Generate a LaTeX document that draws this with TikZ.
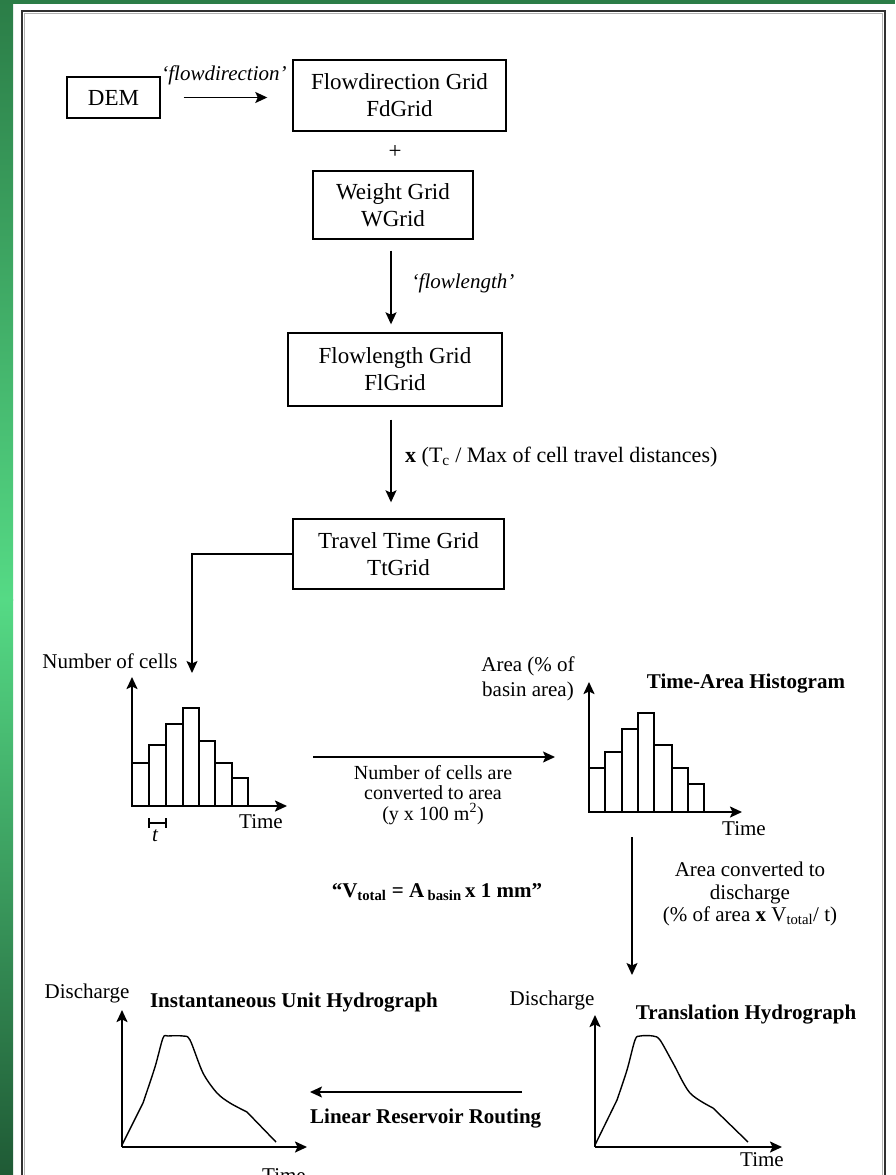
\documentclass[tikz,border=0pt]{standalone}
\usepackage{fontspec}
\setmainfont{Liberation Serif}
\usetikzlibrary{arrows.meta,calc}

\definecolor{gtop}{HTML}{2B7D47}
\definecolor{gmid}{HTML}{55DA85}
\definecolor{gbot}{HTML}{1F5A35}
\definecolor{framegrey}{HTML}{303030}

\newcommand{\gridsize}{\fontsize{23}{27}\selectfont}
\newcommand{\lblsize}{\fontsize{21}{22.5}\selectfont}
\newcommand{\smallsize}{\fontsize{20}{20.5}\selectfont}

\tikzset{
  gridbox/.style={draw, line width=1.4pt, inner sep=0pt, align=center, font=\gridsize},
  lbl/.style={inner sep=0pt, align=center, font=\lblsize},
  title/.style={inner sep=0pt, align=center, font=\lblsize\bfseries},
  arr/.style={-{Stealth[length=12pt,width=11pt,inset=2.5pt]}, line width=1.5pt},
  axis/.style={-{Stealth[length=12pt,width=11pt,inset=2.5pt]}, line width=2pt},
  bar/.style={line width=1.4pt},
  curve/.style={line width=1.4pt, line join=round}
}

\begin{document}
\begin{tikzpicture}[x=1pt,y=-1pt]
\useasboundingbox (0,0) rectangle (895,1175);

% page background and green border (bright in the middle, darker at both ends)
\fill[white] (0,0) rectangle (895,1175);
\shade[top color=gtop, bottom color=gmid] (0,0) rectangle (13,600);
\shade[top color=gmid, bottom color=gbot] (0,599.5) rectangle (13,1175);
\fill[gtop] (0,0) rectangle (895,4);
\draw[framegrey, line width=2.2pt] (22,1190) -- (22,11) -- (885,11) -- (885,1190);
\draw[gray!60, line width=0.8pt] (24.2,1190) -- (24.2,13.2) -- (882.8,13.2) -- (882.8,1190);

% grid chain
\node[gridbox, minimum width=93pt, minimum height=41pt] (dem) at (113.5,97.5) {DEM};
\node[gridbox, minimum width=213pt, minimum height=71pt] (fd) at (399.5,95.5) {Flowdirection Grid\\FdGrid};
\node[lbl, font=\gridsize] (plus) at (395,152) {+};
\node[gridbox, minimum width=160pt, minimum height=68pt] (wg) at (393,205) {Weight Grid\\WGrid};
\node[gridbox, minimum width=214pt, minimum height=73pt] (fl) at (395,369.5) {Flowlength Grid\\FlGrid};
\node[gridbox, minimum width=211pt, minimum height=70pt] (tt) at (398.5,554) {Travel Time Grid\\TtGrid};

\draw[arr, shorten <=23pt, shorten >=25pt] (dem.east) -- (fd.west |- dem.east);
\node[lbl, font=\lblsize\itshape] (fdlbl) at (224,75) {‘flowdirection’};

\draw[arr, shorten <=11pt, shorten >=8pt] ([xshift=-2pt]wg.south) -- ([xshift=-2pt]wg.south |- fl.north);
\node[lbl, font=\lblsize\itshape] (fllbl) at (463,283) {‘flowlength’};

\draw[arr, shorten <=13pt, shorten >=16pt] ([xshift=-4pt]fl.south) -- ([xshift=-4pt]fl.south |- tt.north);
\node[lbl, anchor=west, font=\fontsize{22}{24}\selectfont] (ttlbl) at (405,457) {\textbf{x} (T\textsubscript{c} / Max of cell travel distances)};

% cell-count histogram
\coordinate (o1) at (132,806);
\coordinate (in1) at (192,673);
\draw[arr] (tt.west) -| (in1);
\node[lbl] (ncells) at (110,661) {Number of cells};
\foreach \a/\b/\t in {132/149/763, 149/166/745, 166/183/724, 183/199/708, 199/215/741, 215/232/763, 232/248/778}
  \draw[bar] (\a,806) rectangle (\b,\t);
\draw[axis] (o1) -- ++(0,-129);
\draw[axis] (o1) -- ++(155,0);
\node[lbl] (time1) at (261,822) {Time};
\draw[line width=1.2pt] (149,823) -- (166,823) (149,818) -- (149,828) (166,818) -- (166,828);
\node[lbl, font=\lblsize\itshape] (tstep) at (155,836) {t};

% conversion to area
\coordinate (a1s) at (313,757);
\coordinate (a1e) at (555,757);
\draw[arr] (a1s) -- (a1e);
\node[lbl, font=\smallsize] (conv) at (433,795) {Number of cells are\\converted to area\\(y x 100 m\textsuperscript{2})};

% time-area histogram
\coordinate (o2) at (589,812);
\node[lbl, font=\fontsize{21}{25}\selectfont] (areaax) at (528,679) {Area (\% of\\basin area)};
\node[title] (tah) at (746,684) {Time-Area Histogram};
\foreach \a/\b/\t in {589/605/768, 605/622/752, 622/638/729, 638/654/713, 654/672/745, 672/688/768, 688/704/784}
  \draw[bar] (\a,812) rectangle (\b,\t);
\draw[axis] (o2) -- ++(0,-130);
\draw[axis] (o2) -- ++(153,0);
\node[lbl] (time2) at (744,829) {Time};

% conversion to discharge
\coordinate (d1s) at (632,837);
\coordinate (d1e) at (632,975);
\draw[arr] (d1s) -- (d1e);
\node[lbl] (dconv) at (750,894) {Area converted to\\discharge\\(\% of area \textbf{x} V\textsubscript{total}/ t)};
\node[title] (vtot) at (437,892) {“V\textsubscript{total} = A\,\textsubscript{basin}\,x 1 mm”};

% instantaneous unit hydrograph
\coordinate (o3) at (122,1147);
\node[lbl] (dis1) at (87,993) {Discharge};
\node[title] (iuh) at (294,1003) {Instantaneous Unit Hydrograph};
\begin{scope}[shift={(o3)}]
  \draw[curve] (0,-2) -- (21,-44) plot[smooth, tension=0.5] coordinates {(21,-44) (33,-80) (41,-109) (46,-111) (61,-111) (68,-107) (81,-74) (95,-54) (108,-44) (125,-35)} -- (154,-5);
\end{scope}
\draw[axis] (o3) -- ++(0,-137);
\draw[axis] (o3) -- ++(185,0);
\node[lbl] (time3) at (284,1176) {Time};

% translation hydrograph
\coordinate (o4) at (595,1147);
\node[lbl] (dis2) at (552,1000) {Discharge};
\node[title] (th) at (746,1015) {Translation Hydrograph};
\begin{scope}[shift={(o4)}]
  \draw[curve] (0,-2) -- (22,-47) plot[smooth, tension=0.5] coordinates {(22,-47) (32,-77) (40,-107) (45,-111) (58,-111) (65,-107) (78,-84) (95,-54) (118,-39)} -- (153,-5);
\end{scope}
\draw[axis] (o4) -- ++(0,-132);
\draw[axis] (o4) -- ++(187,0);
\node[lbl] (time4) at (762,1160) {Time};

% routing step
\coordinate (r1s) at (522,1092);
\coordinate (r1e) at (310,1092);
\draw[arr] (r1s) -- (r1e);
\node[title, anchor=west] (lrr) at (310,1119) {Linear Reservoir Routing};
\end{tikzpicture}
\end{document}
